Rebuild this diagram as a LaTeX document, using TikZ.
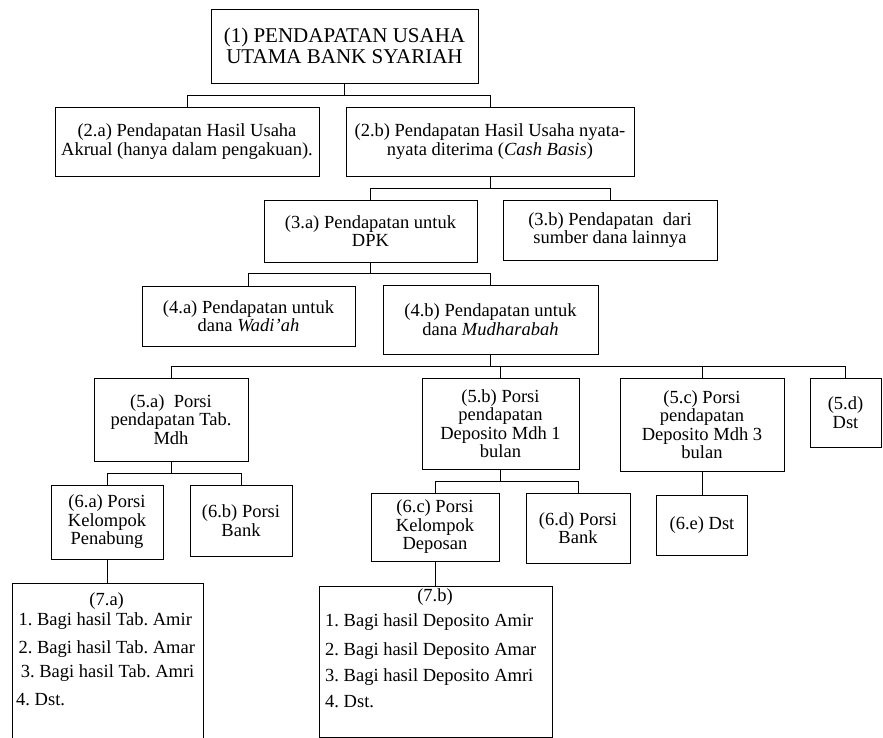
\documentclass[tikz,border=0pt]{standalone}
\usepackage{fontspec}
\setmainfont{Liberation Serif}
\frenchspacing
\begin{document}
\begin{tikzpicture}[x=1pt,y=-1pt,
  box/.style={draw,line width=0.9pt,inner sep=0pt,align=center,
    font=\fontsize{18.5}{18.5}\selectfont\frenchspacing},
  txt/.style={inner sep=0pt,font=\fontsize{18.5}{18.5}\selectfont\frenchspacing},
  conn/.style={line width=0.8pt}]
\clip (0,0) rectangle (883,738);
\useasboundingbox (0,0) rectangle (883,738);
% boxes
\node[box,minimum width=267pt,minimum height=74pt,font=\fontsize{21}{21}\selectfont] (n1) at (344.5,46) {(1) PENDAPATAN USAHA\\UTAMA BANK SYARIAH};
\node[box,minimum width=264pt,minimum height=69pt] (n2a) at (187,141.5) {(2.a) Pendapatan Hasil Usaha\\Akrual (hanya dalam pengakuan).};
\node[box,minimum width=288pt,minimum height=69pt] (n2b) at (490,141.5) {(2.b) Pendapatan Hasil Usaha nyata-\\nyata diterima (\textit{Cash Basis})};
\node[box,minimum width=213pt,minimum height=62pt] (n3a) at (370.5,231) {(3.a) Pendapatan untuk\\DPK};
\node[box,minimum width=214pt,minimum height=60pt] (n3b) at (610,230) {(3.b) Pendapatan\ \ dari\\sumber dana lainnya};
\node[box,minimum width=213pt,minimum height=60pt] (n4a) at (248.5,316) {(4.a) Pendapatan untuk\\dana \textit{Wadi\char"0027ah}};
\node[box,minimum width=215pt,minimum height=69pt] (n4b) at (490.5,319.5) {(4.b) Pendapatan untuk\\dana \textit{Mudharabah}};
\node[box,minimum width=154pt,minimum height=83pt] (n5a) at (171,419.5) {(5.a)\ \ Porsi\\pendapatan Tab.\\Mdh};
\node[box,minimum width=157pt,minimum height=91pt] (n5b) at (500.5,423.5) {(5.b) Porsi\\pendapatan\\Deposito Mdh 1\\bulan};
\node[box,minimum width=164pt,minimum height=93pt] (n5c) at (702,424.5) {(5.c) Porsi\\pendapatan\\Deposito Mdh 3\\bulan};
\node[box,minimum width=71pt,minimum height=69pt] (n5d) at (845.5,412.5) {(5.d)\\Dst};
\node[box,minimum width=112pt,minimum height=74pt] (n6a) at (107,522) {(6.a) Porsi\\Kelompok\\Penabung};
\node[box,minimum width=102pt,minimum height=71pt] (n6b) at (241,520.5) {(6.b) Porsi\\Bank};
\node[box,minimum width=128pt,minimum height=68pt] (n6c) at (435,527) {(6.c) Porsi\\Kelompok\\Deposan};
\node[box,minimum width=104pt,minimum height=70pt] (n6d) at (578,528) {(6.d) Porsi\\Bank};
\node[box,minimum width=91pt,minimum height=60pt] (n6e) at (702,525) {(6.e) Dst};
\node[box,minimum width=191pt,minimum height=177pt] (n7a) at (107.5,671.5) {};
\node[box,minimum width=233pt,minimum height=151pt] (n7b) at (435.5,661.5) {};
% list texts
\node[txt,anchor=base] (t7a) at (106.7,605.7) {(7.a)};
\node[txt,anchor=base west] (t7a1) at (18.3,625) {1. Bagi hasil Tab. Amir};
\node[txt,anchor=base west] (t7a2) at (18.3,653.3) {2. Bagi hasil Tab. Amar};
\node[txt,anchor=base west] (t7a3) at (20.7,677.3) {3. Bagi hasil Tab. Amri};
\node[txt,anchor=base west] (t7a4) at (16,705) {4. Dst.};
\node[txt,anchor=base] (t7b) at (435,601.7) {(7.b)};
\node[txt,anchor=base west] (t7b1) at (325,626.7) {1. Bagi hasil Deposito Amir};
\node[txt,anchor=base west] (t7b2) at (325,655) {2. Bagi hasil Deposito Amar};
\node[txt,anchor=base west] (t7b3) at (325,681.7) {3. Bagi hasil Deposito Amri};
\node[txt,anchor=base west] (t7b4) at (325,707.7) {4. Dst.};
% bus levels
\coordinate (b1) at (0,95.5);
\coordinate (b2) at (0,188);
\coordinate (b3) at (0,273.3);
\coordinate (b4) at (0,366.7);
\coordinate (b5) at (0,473.3);
\coordinate (b6) at (0,481);
% connectors
\draw[conn] (n1.south) -- (n1.south |- b1);
\draw[conn] (n2a.north) -- (n2a.north |- b1) -- (n2b.north |- b1) -- (n2b.north);
\draw[conn] (n2b.south) -- (n2b.south |- b2);
\draw[conn] (n3a.north) -- (n3a.north |- b2) -- (n3b.north |- b2) -- (n3b.north);
\draw[conn] (n3a.south) -- (n3a.south |- b3);
\draw[conn] (n4a.north) -- (n4a.north |- b3) -- (n4b.north |- b3) -- (n4b.north);
\draw[conn] (n4b.south) -- (n4b.south |- b4);
\draw[conn] (n5a.north) -- (n5a.north |- b4) -- (n5d.north |- b4) -- (n5d.north);
\draw[conn] (n5b.north) -- (n5b.north |- b4);
\draw[conn] (n5c.north) -- (n5c.north |- b4);
\draw[conn] (n5a.south) -- (n5a.south |- b5);
\draw[conn] (n6a.north) -- (n6a.north |- b5) -- (n6b.north |- b5) -- (n6b.north);
\draw[conn] (n5b.south) -- (n5b.south |- b6);
\draw[conn] (n6c.north) -- (n6c.north |- b6) -- (n6d.north |- b6) -- (n6d.north);
\draw[conn] (n5c.south) -- (n6e.north);
\draw[conn] (n6a.south) -- (n6a.south |- n7a.north);
\draw[conn] (n6c.south) -- (n6c.south |- n7b.north);
\end{tikzpicture}
\end{document}
